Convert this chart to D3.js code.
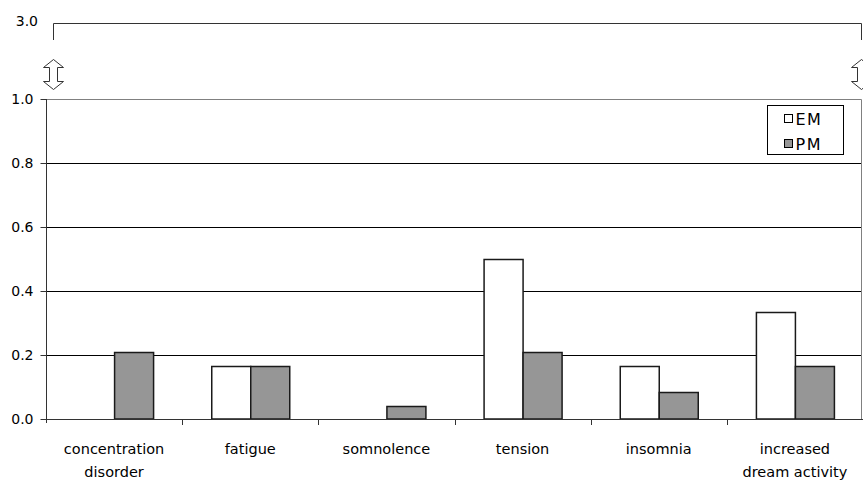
<!DOCTYPE html>
<html>
<head>
<meta charset="utf-8">
<script src="https://cdn.jsdelivr.net/npm/d3@7"></script>
<style>
  body { margin: 0; background: #fff; }
  svg { display: block; }
  text { font-family: "DejaVu Sans", Verdana, sans-serif; fill: #000; }
</style>
</head>
<body>
<svg id="chart" width="863" height="485"></svg>
<script>
// Symptom categories and mean scores per group
const categories = ["concentration disorder", "fatigue", "somnolence", "tension", "insomnia", "increased dream activity"];
const seriesNames = ["EM", "PM"];
const emValues = [0, 0.167, 0, 0.5, 0.167, 0.333];
const pmValues = [0.208, 0.167, 0.042, 0.208, 0.083, 0.167];
const yTicks = [0.0, 0.2, 0.4, 0.6, 0.8, 1.0];
const breakLabel = "3.0";

const colors = { EM: "#ffffff", PM: "#969696" };

const svg = d3.select("#chart");
const margin = { left: 46, right: 863, top: 99, bottom: 419 };

const x = d3.scaleBand().domain(categories).range([margin.left, margin.right]);
const xInner = d3.scaleBand().domain(seriesNames).range([0, 78]);
const y = d3.scaleLinear().domain([0, 1]).range([margin.bottom, margin.top]);

// Gridlines
svg.append("g").selectAll("line")
  .data(yTicks.filter(d => d > 0 && d < 1))
  .join("line")
  .attr("x1", margin.left).attr("x2", margin.right - 1)
  .attr("y1", d => Math.round(y(d)) + 0.5).attr("y2", d => Math.round(y(d)) + 0.5)
  .attr("stroke", "#000").attr("stroke-width", 1);

// Plot area border (top and right)
svg.append("path")
  .attr("d", `M${margin.left},${y(1) + 0.5}H${margin.right - 1.5}V${margin.bottom}`)
  .attr("fill", "none").attr("stroke", "#808080").attr("stroke-width", 1);

// Bars
const rows = categories.map((c, i) => ({ cat: c, EM: emValues[i], PM: pmValues[i] }));
const groups = svg.append("g").selectAll("g")
  .data(rows).join("g")
  .attr("transform", d => `translate(${x(d.cat) + (x.bandwidth() - 78) / 2},0)`);
groups.selectAll("rect")
  .data(d => seriesNames.map(s => ({ s, v: d[s] })).filter(e => e.v > 0))
  .join("rect")
  .attr("x", d => Math.round(xInner(d.s)) + 0.5)
  .attr("width", xInner.bandwidth())
  .attr("y", d => Math.round(y(d.v)) + 0.5)
  .attr("height", d => y(0) - Math.round(y(d.v)) - 0.5)
  .attr("fill", d => colors[d.s])
  .attr("stroke", "#1a1a1a").attr("stroke-width", 1.5);

// Y axis
const yAxis = d3.axisLeft(y).tickValues(yTicks).tickFormat(d3.format(".1f")).tickSize(6).tickPadding(7);
const gy = svg.append("g").attr("transform", `translate(${margin.left + 0.5},0)`).call(yAxis);
gy.select(".domain").attr("stroke", "#333").attr("d", `M0,${y(1)}V${y(0) + 4}`);
gy.selectAll(".tick line").attr("stroke", "#333");
gy.selectAll("text").style("font-size", "14px").attr("fill", "#000");

// X axis
const xAxis = d3.axisBottom(x).tickSize(0).tickFormat("");
const gx = svg.append("g").attr("transform", `translate(0,${Math.round(y(0)) + 0.5})`).call(xAxis);
gx.select(".domain").attr("stroke", "#333").attr("d", `M${margin.left},0H${margin.right}`);
// category boundary ticks
svg.append("g").selectAll("line")
  .data(categories.slice(1).map(c => x(c)))
  .join("line")
  .attr("x1", d => Math.round(d) + 0.5).attr("x2", d => Math.round(d) + 0.5)
  .attr("y1", y(0)).attr("y2", y(0) + 6)
  .attr("stroke", "#333");

// Category labels (wrapped)
const labelLines = {
  "concentration disorder": ["concentration", "disorder"],
  "increased dream activity": ["increased", "dream activity"]
};
categories.forEach(c => {
  const lines = labelLines[c] || [c];
  const t = svg.append("text")
    .attr("x", x(c) + x.bandwidth() / 2)
    .attr("y", 454)
    .attr("text-anchor", "middle")
    .style("font-size", "14.5px");
  lines.forEach((ln, i) => {
    t.append("tspan").attr("x", x(c) + x.bandwidth() / 2).attr("dy", i === 0 ? 0 : 23).text(ln);
  });
});

// Axis break: upper value label and bracket
svg.append("text").attr("x", 38).attr("y", 26).attr("text-anchor", "end")
  .style("font-size", "14px").text(breakLabel);
svg.append("path")
  .attr("d", "M53.5,40V23.5H861.5V40")
  .attr("fill", "none").attr("stroke", "#333").attr("stroke-width", 1);

// Double-headed break arrows
function dblArrow(cx, top, bottom) {
  const hw = 10, hh = 8, sw = 4;
  return `M${cx},${top}L${cx + hw},${top + hh}H${cx + sw}V${bottom - hh}H${cx + hw}L${cx},${bottom}L${cx - hw},${bottom - hh}H${cx - sw}V${top + hh}H${cx - hw}Z`;
}
svg.append("path").attr("d", dblArrow(53.5, 59.5, 89.5))
  .attr("fill", "#fff").attr("stroke", "#333").attr("stroke-width", 1);
svg.append("path").attr("d", dblArrow(861.5, 59.5, 89.5))
  .attr("fill", "#fff").attr("stroke", "#333").attr("stroke-width", 1);

// Legend
const lg = svg.append("g").attr("transform", "translate(767.5,105.5)");
lg.append("rect").attr("width", 76).attr("height", 49)
  .attr("fill", "#fff").attr("stroke", "#000").attr("stroke-width", 1);
seriesNames.forEach((s, i) => {
  lg.append("rect").attr("x", 17).attr("y", 9 + i * 25).attr("width", 8).attr("height", 8)
    .attr("fill", colors[s]).attr("stroke", "#000").attr("stroke-width", 1);
  lg.append("text").attr("x", 28).attr("y", 19 + i * 25)
    .style("font-size", "16px").style("letter-spacing", "1.5px").text(s);
});
</script>
</body>
</html>
